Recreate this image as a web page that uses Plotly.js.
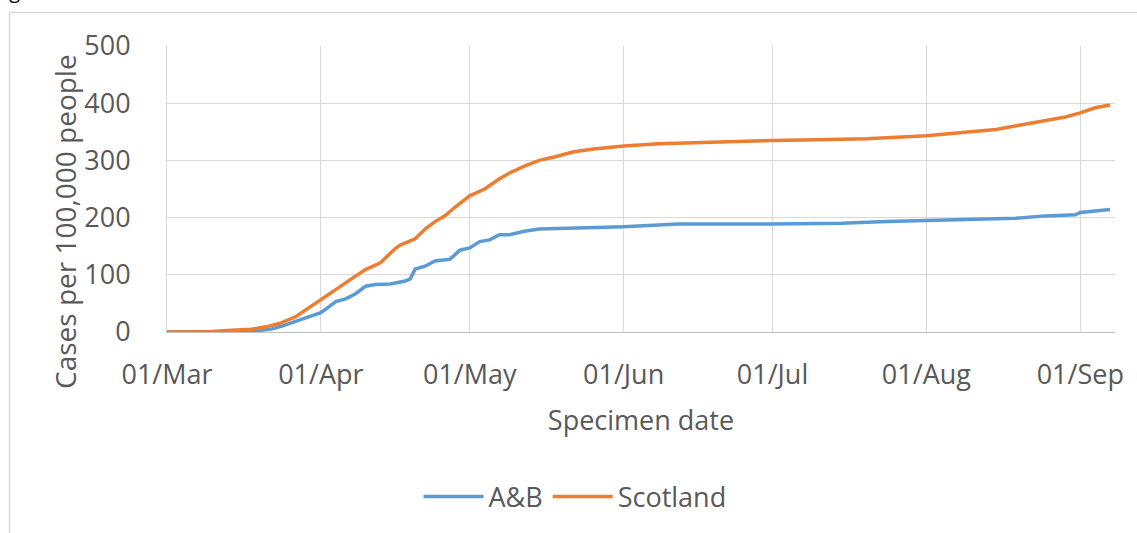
<!DOCTYPE html>
<html>
<head>
<meta charset="utf-8">
<script src="https://cdn.plot.ly/plotly-3.0.1.min.js"></script>
<style>
  html, body { margin: 0; padding: 0; background: #ffffff; }
  #chart { width: 1137px; height: 533px; }
</style>
</head>
<body>
<div id="chart"></div>
<script>
// ---- Data ----
const seriesNames = ["A&B", "Scotland"];

const abDates = [
  "2020-03-01","2020-03-15","2020-03-18","2020-03-20","2020-03-22","2020-03-24",
  "2020-03-26","2020-03-28","2020-03-29","2020-03-31","2020-04-01","2020-04-02",
  "2020-04-04","2020-04-06","2020-04-08","2020-04-10","2020-04-12","2020-04-15",
  "2020-04-18","2020-04-19","2020-04-20","2020-04-22","2020-04-24","2020-04-27",
  "2020-04-29","2020-05-01","2020-05-03","2020-05-05","2020-05-07","2020-05-09",
  "2020-05-12","2020-05-15","2020-05-20","2020-05-25","2020-06-01","2020-06-08",
  "2020-06-12","2020-07-01","2020-07-15","2020-07-24","2020-08-01","2020-08-10",
  "2020-08-19","2020-08-25","2020-08-31","2020-09-01","2020-09-04","2020-09-07"
];
const abValues = [
  0, 0, 1, 3, 5, 10,
  16, 22, 24, 30, 34, 40,
  53, 58, 67, 80, 83, 84,
  89, 93, 110, 115, 124, 127,
  143, 147, 158, 161, 170, 170,
  176, 180, 181, 183, 184, 187,
  189, 189, 190, 193, 195, 197,
  199, 203, 205, 209, 212, 214
];

const scotDates = [
  "2020-03-01","2020-03-05","2020-03-10","2020-03-14","2020-03-18","2020-03-21",
  "2020-03-24","2020-03-27","2020-03-30","2020-04-01","2020-04-04","2020-04-07",
  "2020-04-10","2020-04-13","2020-04-16","2020-04-17","2020-04-19","2020-04-20",
  "2020-04-22","2020-04-24","2020-04-26","2020-04-28","2020-05-01","2020-05-04",
  "2020-05-07","2020-05-09","2020-05-12","2020-05-15","2020-05-18","2020-05-22",
  "2020-05-26","2020-06-01","2020-06-08","2020-06-15","2020-06-22","2020-07-01",
  "2020-07-10","2020-07-20","2020-08-01","2020-08-05","2020-08-10","2020-08-15",
  "2020-08-20","2020-08-25","2020-08-29","2020-09-01","2020-09-04","2020-09-07"
];
const scotValues = [
  0, 0, 1, 3, 5, 9,
  16, 27, 44, 56, 74, 92,
  109, 121, 146, 152, 159, 163,
  180, 193, 203, 218, 238, 250,
  268, 278, 290, 300, 306, 315,
  320, 325, 329, 331, 333, 335,
  336, 338, 343, 346, 350, 354,
  362, 369, 376, 383, 392, 397
];

const yTickVals = [0, 100, 200, 300, 400, 500];
const xRange = ["2020-03-01", "2020-09-08"];
const xTitle = "Specimen date";
const yTitle = "Cases per 100,000 people";
const captionText = "Figure";

// ---- Styling ----
const FONT = "'Open Sans', 'Noto Sans', sans-serif";
const TXT = "#595959";
const GRID = "#D9D9D9";

const traces = [
  { x: abDates, y: abValues, name: seriesNames[0], type: "scatter", mode: "lines",
    line: { color: "#5B9BD5", width: 3.5 } },
  { x: scotDates, y: scotValues, name: seriesNames[1], type: "scatter", mode: "lines",
    line: { color: "#ED7D31", width: 3.5 } }
];

const L = 167, R = 22, T = 46, B = 201, W = 1137, H = 533;
const pw = W - L - R, ph = H - T - B;
const px = v => (v - L) / pw;
const py = v => (H - B - v) / ph;

const layout = {
  width: W, height: H,
  margin: { l: L, r: R, t: T, b: B, pad: 0 },
  paper_bgcolor: "#ffffff",
  plot_bgcolor: "#ffffff",
  font: { family: FONT, size: 27, color: TXT },
  showlegend: true,
  legend: {
    orientation: "h", x: px(575), xanchor: "center", y: py(497), yanchor: "middle",
    font: { family: FONT, size: 27, color: TXT }, itemwidth: 60, bgcolor: "rgba(0,0,0,0)"
  },
  xaxis: {
    type: "date", range: xRange, dtick: "M1", tick0: "2020-03-01",
    tickformat: "%d/%b", showgrid: true, gridcolor: GRID, gridwidth: 1,
    showline: true, linecolor: "#BFBFBF", linewidth: 1, ticks: "",
    ticklabelstandoff: 19, zeroline: false,
    tickfont: { family: FONT, size: 27, color: TXT },
    title: { text: xTitle, font: { family: FONT, size: 27, color: TXT }, standoff: 19 }
  },
  yaxis: {
    range: [0, 500], tickvals: yTickVals, showgrid: true, gridcolor: GRID, gridwidth: 1,
    showline: true, linecolor: GRID, linewidth: 1, ticks: "", zeroline: false,
    ticklabelstandoff: 30,
    tickfont: { family: FONT, size: 27, color: TXT }
  },
  shapes: [
    { type: "rect", xref: "paper", yref: "paper",
      x0: px(9.5), x1: px(1145), y0: py(545), y1: py(12.5),
      line: { color: GRID, width: 1.5 }, fillcolor: "rgba(0,0,0,0)", layer: "below" }
  ],
  annotations: [
    { text: yTitle, xref: "paper", yref: "paper", x: px(65), y: py(222),
      xanchor: "center", yanchor: "middle", textangle: -90, showarrow: false,
      font: { family: FONT, size: 28, color: TXT } },
    { text: captionText, xref: "paper", yref: "paper", x: px(-8), y: py(6),
      xanchor: "left", yanchor: "bottom", showarrow: false,
      font: { family: FONT, size: 20, color: "#000000" } }
  ]
};

Plotly.newPlot("chart", traces, layout, { displayModeBar: false, staticPlot: true });
</script>
</body>
</html>
